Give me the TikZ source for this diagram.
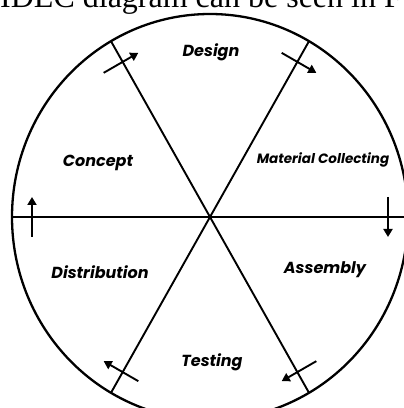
\documentclass[tikz,border=0pt]{standalone}
\usepackage{fontspec}
\setmainfont{Liberation Serif}
\newfontfamily\phasefont{Poppins}
\usetikzlibrary{arrows.meta, calc}

\begin{document}
\begin{tikzpicture}[x=1pt, y=1pt,
        rim/.style={line width=2.3pt},
        spoke/.style={line width=1.9pt},
        flow/.style={line width=1.9pt, -{Triangle[width=9pt, length=8pt]}},
        phase/.style={font=\phasefont\bfseries\itshape\fontsize{16}{18}\selectfont},
        smallphase/.style={font=\phasefont\bfseries\itshape\fontsize{13.5}{16}\selectfont}
    ]

    \useasboundingbox (0,0) rectangle (404,408);
    \clip (0,0) rectangle (404,408);

    % cut-off line of the page above
    \node[anchor=base west, inner sep=0pt, font=\fontsize{32}{36}\selectfont] (caption) at (0,400) {IDEC diagram can be seen in F};

    % wheel
    \coordinate (c) at (210,191);
    \draw[rim] (c) ellipse [x radius=198, y radius=203];
    \foreach \a in {0,60,...,300} {
        \coordinate (r\a) at ($(c)+(\a:198 and 203)$);
        \draw[spoke] (c) -- (r\a);
    }

    % direction arrows across the spokes
    \foreach \a in {0,60,...,300} {
        \coordinate (m\a) at ($(c)+(\a:178)$);
        \coordinate (t\a) at ($(m\a)+(\a+90:20)$);
        \coordinate (h\a) at ($(m\a)+(\a-90:20)$);
        \draw[flow] (t\a) -- (h\a);
    }

    % phases
    \node[phase] (design) at (211,356) {Design};
    \node[smallphase] (material) at (323,248) {Material Collecting};
    \node[phase] (assembly) at (325,138) {Assembly};
    \node[phase] (testing) at (212,46) {Testing};
    \node[phase] (distribution) at (100,136) {Distribution};
    \node[phase] (concept) at (98,245) {Concept};

\end{tikzpicture}
\end{document}
